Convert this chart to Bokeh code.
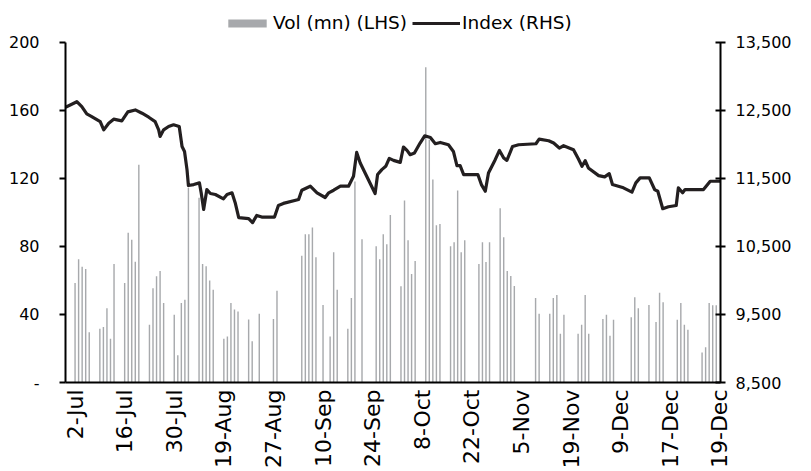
from bokeh.plotting import figure
from bokeh.models import Range1d, LinearAxis, FixedTicker, NumeralTickFormatter, Legend, LegendItem
from bokeh.embed import file_html
from bokeh.resources import INLINE
import math

# ---- data (days counted from 2-Jul) ----
x_labels = ["2-Jul", "16-Jul", "30-Jul", "19-Aug", "27-Aug", "10-Sep", "24-Sep",
            "8-Oct", "22-Oct", "5-Nov", "19-Nov", "9-Dec", "17-Dec", "19-Dec"]
label_step = 14

bar_days = [0, 1, 2, 3, 4, 7, 8, 9, 10, 11, 14, 15, 16, 17, 18, 21, 22, 23, 24, 25,
            28, 29, 30, 31, 32, 35, 36, 37, 38, 39, 42, 43, 44, 45, 46, 49, 50, 52,
            56, 57, 64, 65, 66, 67, 68, 70, 72, 73, 74, 77, 78, 79, 81,
            85, 86, 87, 88, 89, 92, 93, 94, 95, 96, 99, 100, 101, 102, 103,
            106, 107, 108, 109, 110, 114, 115, 116, 117, 120, 121, 122, 123, 124,
            130, 131, 134, 135, 136, 137, 138, 142, 143, 144, 145, 149, 150, 151, 152,
            157, 158, 159, 162, 164, 165, 166, 170, 171, 172, 173, 177, 178, 179, 180, 181]

volume = [58.5, 72.5, 68, 66.7, 29.6, 31.6, 32.6, 43.7, 25.7, 69.6,
          58.5, 88.1, 83.9, 71, 128, 34, 55.4, 62.4, 65.5, 46.8,
          39.8, 16, 46.8, 48.7, 114.5, 108.6, 69.6, 68.3, 59.9, 54.6,
          25.7, 27.1, 46.8, 42.9, 41.7, 37, 24.2, 40.4,
          37.4, 54, 74.5, 87.2, 87.2, 91.1, 73.7, 45.6, 27.1, 76.6, 54.6,
          31.6, 49.7, 118.2, 84.2,
          80.1, 72.5, 87.2, 81.3, 98.5, 56.6, 107, 83.7, 63.8, 71.4,
          185.3, 142.7, 119.3, 92.4, 93.2,
          80.1, 82.5, 112.9, 76.6, 83.7, 69.6, 82.5, 70.8, 82.5,
          102.4, 85.4, 65.5, 62.6, 56.7,
          49.7, 40.4, 40.4, 49.7, 51.5, 28.7, 39.8, 28.7, 34, 51.5, 28.7,
          37.4, 39.8, 27.5, 36.9,
          38.4, 50.1, 43.7, 45.6, 35.5, 52.7, 47.2, 36.9, 46.8, 34, 31,
          17.6, 20.7, 46.8, 45.4, 45.4]

line_days = [-2.7, 0.5, 1.9, 3.3, 4.7, 7.1, 8.1, 9.5, 10.9, 13.2, 14.9, 17.0, 18.9, 20.8,
             22.6, 23.6, 24.0, 25.0, 26.4, 27.8, 29.4, 30.2, 30.9, 31.6, 32.0, 33.5,
             35.1, 35.6, 36.3, 37.2, 38.2, 39.6, 41.9, 42.9, 44.3, 45.2, 46.2, 49.0,
             50.1, 51.3, 52.7, 56.3, 57.4, 58.8, 63.1, 64.0, 66.4, 68.3, 70.6, 71.6,
             73.0, 74.9, 77.2, 78.6, 79.5, 80.5, 84.7, 85.4, 86.6, 87.7, 88.7, 89.9,
             91.8, 92.7, 93.7, 94.6, 95.8, 97.4, 98.7, 100.3, 101.7, 103.1, 105.4,
             106.8, 107.8, 108.7, 109.7, 113.7, 114.7, 115.8, 116.7, 118.6, 119.8,
             121.0, 121.9, 123.5, 125.2, 130.1, 131.0, 133.7, 135.1, 136.7, 137.9,
             140.7, 142.1, 143.1, 144.0, 144.9, 147.8, 149.5, 150.8, 151.7, 154.8,
             157.2, 158.3, 159.5, 162.1, 163.6, 164.5, 165.9, 167.5, 169.7, 170.3,
             171.5, 172.2, 177.4, 179.3, 182.2]

index_vals = [12545, 12627, 12554, 12447, 12408, 12335, 12213, 12311, 12370, 12345,
              12477, 12506, 12458, 12399, 12335, 12213, 12116, 12213, 12262, 12287,
              12262, 11969, 11896, 11629, 11395, 11409, 11434, 11288, 11044, 11336,
              11278, 11263, 11200, 11263, 11288, 11142, 10923, 10908, 10849, 10956,
              10931, 10931, 11102, 11132, 11190, 11326, 11385, 11288, 11219, 11288,
              11326, 11385, 11385, 11531, 11882, 11727, 11278, 11556, 11629, 11677,
              11794, 11765, 11735, 11961, 11911, 11848, 11873, 12019, 12126, 12101,
              12009, 12028, 11994, 11896, 11687, 11687, 11556, 11556, 11409, 11311,
              11580, 11775, 11911, 11800, 11765, 11969, 11994, 12009, 12077, 12053,
              12019, 11946, 11980, 11921, 11785, 11677, 11760, 11653, 11541, 11522,
              11570, 11409, 11361, 11297, 11434, 11507, 11507, 11336, 11311, 11054,
              11083, 11102, 11361, 11288, 11336, 11336, 11458, 11458]

vol_ticks = [0, 40, 80, 120, 160, 200]
idx_ticks = [8500, 9500, 10500, 11500, 12500, 13500]

FONT = "DejaVu Sans"
BLACK = "#000000"

# frame spans from the legend row down to the x axis; the axes stop at the top tick
H = 471
TOP_PX = 4
AXIS_TOP_PX = 42
AXIS_BOTTOM_PX = 384
extra = (AXIS_TOP_PX - TOP_PX) / (AXIS_BOTTOM_PX - AXIS_TOP_PX)
vmin, vmax = vol_ticks[0], vol_ticks[-1]
imin, imax = idx_ticks[0], idx_ticks[-1]

p = figure(width=800, height=H, x_range=Range1d(-2.7, 182.2),
           y_range=Range1d(vmin, vmax + extra * (vmax - vmin)),
           output_backend="svg", toolbar_location=None,
           min_border_left=65, min_border_right=80, min_border_top=TOP_PX,
           min_border_bottom=H - AXIS_BOTTOM_PX)
p.extra_y_ranges = {"idx": Range1d(imin, imax + extra * (imax - imin))}
p.outline_line_color = None
p.xgrid.grid_line_color = None
p.ygrid.grid_line_color = None

bars = p.vbar(x=bar_days, top=volume, width=0.4, fill_color="#a7a9ac", line_color=None)
line = p.line(x=line_days, y=index_vals, y_range_name="idx", line_color="#231f20",
              line_width=3.2, line_join="round")

xt = [label_step * i for i in range(len(x_labels))]
xa = p.xaxis[0]
xa.ticker = FixedTicker(ticks=xt)
xa.major_label_overrides = {t: lab for t, lab in zip(xt, x_labels)}
xa.major_label_orientation = math.pi / 2
xa.major_tick_in = 0
xa.major_tick_out = 0
xa.minor_tick_line_color = None
xa.major_label_standoff = 7
xa.major_label_text_font_size = "22px"

ya = p.yaxis[0]
ya.ticker = FixedTicker(ticks=vol_ticks)
ya.bounds = (vmin, vmax)
ya.major_label_overrides = {0: "-"}
ya.major_tick_in = 0
ya.major_tick_out = 6
ya.minor_tick_line_color = None
ya.major_label_standoff = 20
ya.major_label_text_font_size = "16px"

ra = LinearAxis(y_range_name="idx", ticker=FixedTicker(ticks=idx_ticks),
                formatter=NumeralTickFormatter(format="0,0"), bounds=(imin, imax))
ra.major_tick_in = 5
ra.major_tick_out = 5
ra.minor_tick_line_color = None
ra.major_label_standoff = 10
ra.major_label_text_font_size = "16px"
p.add_layout(ra, "right")

for ax in [xa, ya, ra]:
    ax.axis_line_width = 2
    ax.axis_line_color = BLACK
    ax.major_tick_line_width = 2
    ax.major_label_text_font = FONT
    ax.major_label_text_color = BLACK
xa.major_tick_line_color = None
ya.major_tick_line_color = BLACK
ra.major_tick_line_color = BLACK

legend = Legend(items=[LegendItem(label="Vol (mn) (LHS)", renderers=[bars]),
                       LegendItem(label="Index (RHS)", renderers=[line])],
                orientation="horizontal", location=(158, AXIS_BOTTOM_PX - 35),
                border_line_color=None, background_fill_alpha=0,
                label_text_font=FONT, label_text_font_size="18.5px",
                label_text_color=BLACK, label_height=20,
                glyph_width=48, glyph_height=10, spacing=5, label_standoff=2,
                padding=0, margin=0)
p.add_layout(legend)

open("out.html", "w").write(file_html(p, INLINE))
